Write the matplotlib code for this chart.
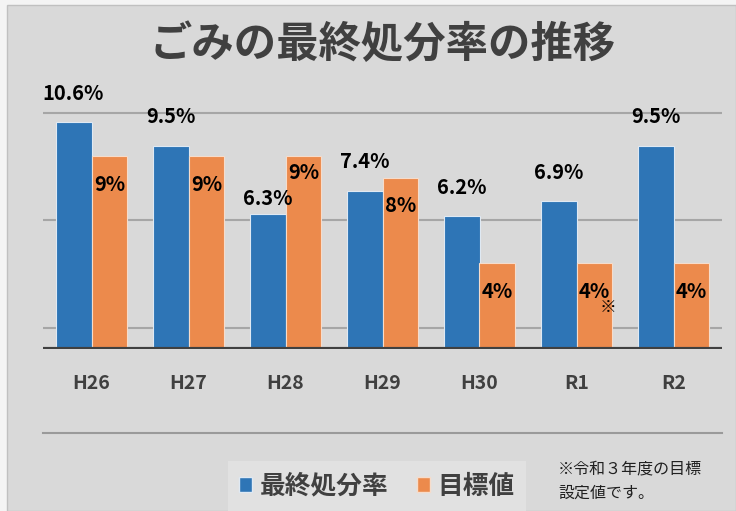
import matplotlib
matplotlib.use("Agg")
import matplotlib.pyplot as plt
import numpy as np
from matplotlib.patches import Rectangle, Patch
from matplotlib.lines import Line2D

categories = ["H26", "H27", "H28", "H29", "H30", "R1", "R2"]
rate = [10.6, 9.5, 6.3, 7.4, 6.2, 6.9, 9.5]
target = [9, 9, 9, 8, 4, 4, 4]
rate_labels = ["10.6%", "9.5%", "6.3%", "7.4%", "6.2%", "6.9%", "9.5%"]
target_labels = ["9%", "9%", "9%", "8%", "4%", "4%", "4%"]
grid_values = [1, 6, 11]
series_names = ["最終処分率", "目標値"]
title = "ごみの最終処分率の推移"
note = "※令和３年度の目標\n設定値です。"

FONT = ["Noto Sans CJK JP", "DejaVu Sans"]
plt.rcParams["font.family"] = FONT

W, H = 736, 511
fig = plt.figure(figsize=(W / 100, H / 100), dpi=100, facecolor="#f4f4f4")
bg = Rectangle((7 / W, 0), 1 - 7 / W, 1 - 5 / H, transform=fig.transFigure,
               facecolor="#d9d9d9", edgecolor="#c0c0c0", linewidth=1, zorder=-10)
fig.add_artist(bg)

ax = fig.add_axes([43 / W, 1 - 349 / H, 679 / W, 257 / H])
ax.set_facecolor("none")
ax.set_zorder(2)
blue = "#2e75b6"
orange = "#ec8a4c"
x = np.arange(len(categories))
bw = 0.37
ax.bar(x - bw / 2, rate, bw, color=blue, edgecolor="#dfe9f3", linewidth=0.8, zorder=3)
ax.bar(x + bw / 2, target, bw, color=orange, edgecolor="#f6dccb", linewidth=0.8, zorder=3)

for g in grid_values:
    ax.axhline(g, color="#a6a6a6", linewidth=1.5, zorder=1)
ax.axhline(0, color="#404040", linewidth=3, zorder=4)

ax.set_xlim(-0.5, len(categories) - 0.5)
ax.set_ylim(0, 12)
ax.set_yticks([])
for s in ax.spines.values():
    s.set_visible(False)
ax.set_xticks(x)
ax.set_xticklabels(categories, fontsize=14, fontweight="bold", color="#404040")
ax.tick_params(axis="x", length=0, pad=18)

rate_off = [13, 13, 4, 13, 13, 13, 13]
target_off = [-20, -20, -12, -20, -20, -20, -20]
for i in range(len(categories)):
    ax.annotate(rate_labels[i], (x[i] - bw / 2, rate[i]), xytext=(0, rate_off[i]),
                textcoords="offset points", ha="center", va="bottom",
                fontsize=14.5, fontweight="bold", color="black", annotation_clip=False)
    ax.annotate(target_labels[i], (x[i] + bw / 2, target[i]), xytext=(0, target_off[i]),
                textcoords="offset points", ha="center", va="center",
                fontsize=14.5, fontweight="bold", color="black", zorder=5)
ax.annotate("※", (x[5] + bw / 2, target[5]), xytext=(10, -32), textcoords="offset points",
            ha="center", va="center", fontsize=12, color="black", zorder=5)

fig.text(383 / W, 1 - 45 / H, title, ha="center", va="center", fontsize=30.5,
         fontweight="bold", color="#404040")

fig.add_artist(Line2D([43 / W, 722 / W], [1 - 433 / H, 1 - 433 / H],
                      transform=fig.transFigure, color="#9a9a9a", linewidth=1.5))

handles = [Patch(facecolor=blue, edgecolor="#dfe9f3"), Patch(facecolor=orange, edgecolor="#f6dccb")]
leg = fig.legend(handles, series_names, loc="center", bbox_to_anchor=(377 / W, 1 - 486 / H),
                 ncol=2, frameon=True, fancybox=False, handlelength=0.5, handleheight=0.5,
                 handletextpad=0.3, columnspacing=1.1, borderpad=0.45,
                 prop={"family": FONT, "size": 18.5, "weight": "bold"})
leg.get_frame().set_facecolor("#e4e4e4")
leg.get_frame().set_edgecolor("none")
for t in leg.get_texts():
    t.set_color("#404040")

fig.text(558 / W, 1 - 481 / H, note, ha="left", va="center", fontsize=11.5,
         color="#202020", linespacing=1.55)

fig.savefig("out.png", dpi=100, facecolor=fig.get_facecolor())
